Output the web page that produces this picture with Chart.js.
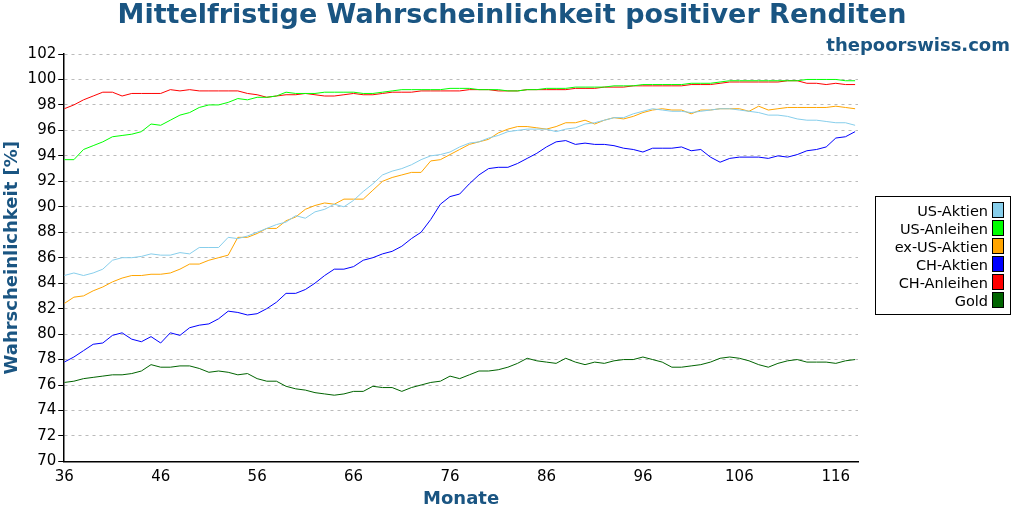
<!DOCTYPE html>
<html>
<head>
<meta charset="utf-8">
<script src="https://cdn.jsdelivr.net/npm/chart.js@4/dist/chart.umd.min.js"></script>
<style>
  body { margin: 0; background: #fff; font-family: "DejaVu Sans", sans-serif; }
  #wrap { position: relative; width: 1024px; height: 512px; }
  #title { position: absolute; left: 0; width: 1024px; top: -2px; text-align: center; font-weight: bold; font-size: 27px; color: #1a5582; }
  #site { position: absolute; right: 14px; top: 34px; font-weight: bold; font-size: 18px; color: #1a5582; }
  #legend { position: absolute; left: 875px; top: 196px; width: 136px; height: 119px; border: 1px solid #000;
            box-sizing: border-box; padding: 5px 6px; font-size: 14.5px; }
  #legend div { text-align: right; height: 18px; line-height: 18px; }
  #legend span { display: inline-block; width: 10px; height: 14px; border: 1px solid #000; margin-left: 4px; vertical-align: -2px; }
</style>
</head>
<body>
<div id="wrap">
  <canvas id="c" width="1024" height="512"></canvas>
  <div id="title">Mittelfristige Wahrscheinlichkeit positiver Renditen</div>
  <div id="site">thepoorswiss.com</div>
  <div id="legend"></div>
</div>
<script>
const months = [];
for (let m = 36; m <= 118; m++) months.push(m);

const usAktien = [84.6,84.8,84.6,84.8,85.1,85.8,86.0,86.0,86.1,86.3,86.2,86.2,86.4,86.3,86.8,86.8,86.8,87.6,87.5,87.7,88.0,88.3,88.6,88.8,89.3,89.1,89.6,89.8,90.2,90.0,90.5,91.2,91.8,92.5,92.8,93.0,93.3,93.7,94.0,94.1,94.3,94.7,95.0,95.1,95.4,95.6,95.9,96.0,96.1,96.1,96.1,95.9,96.1,96.2,96.5,96.6,96.8,97.0,97.0,97.3,97.5,97.7,97.6,97.5,97.5,97.4,97.5,97.6,97.7,97.7,97.6,97.5,97.4,97.2,97.2,97.1,96.9,96.8,96.8,96.7,96.6,96.6,96.4];
const usAnleihen = [93.7,93.7,94.5,94.8,95.1,95.5,95.6,95.7,95.9,96.5,96.4,96.8,97.2,97.4,97.8,98.0,98.0,98.2,98.5,98.4,98.6,98.6,98.7,99.0,98.9,98.9,98.9,99.0,99.0,99.0,99.0,98.9,98.9,99.0,99.1,99.2,99.2,99.2,99.2,99.2,99.3,99.3,99.3,99.2,99.2,99.2,99.1,99.1,99.2,99.2,99.3,99.3,99.3,99.4,99.4,99.4,99.4,99.5,99.5,99.5,99.6,99.6,99.6,99.6,99.6,99.7,99.7,99.7,99.8,99.9,99.9,99.9,99.9,99.9,99.9,99.9,99.9,100.0,100.0,100.0,100.0,99.9,99.9];
const exUsAktien = [82.4,82.9,83.0,83.4,83.7,84.1,84.4,84.6,84.6,84.7,84.7,84.8,85.1,85.5,85.5,85.8,86.0,86.2,87.6,87.6,87.9,88.3,88.3,88.9,89.2,89.8,90.1,90.3,90.2,90.6,90.6,90.6,91.3,92.0,92.3,92.5,92.7,92.7,93.6,93.7,94.1,94.5,94.9,95.1,95.3,95.8,96.1,96.3,96.3,96.2,96.1,96.3,96.6,96.6,96.8,96.5,96.8,97.0,96.9,97.1,97.4,97.6,97.7,97.6,97.6,97.3,97.6,97.6,97.7,97.7,97.7,97.5,97.9,97.6,97.7,97.8,97.8,97.8,97.8,97.8,97.9,97.8,97.7];
const chAktien = [77.8,78.2,78.7,79.2,79.3,79.9,80.1,79.6,79.4,79.8,79.3,80.1,79.9,80.5,80.7,80.8,81.2,81.8,81.7,81.5,81.6,82.0,82.5,83.2,83.2,83.5,84.0,84.6,85.1,85.1,85.3,85.8,86.0,86.3,86.5,86.9,87.5,88.0,89.0,90.2,90.8,91.0,91.8,92.5,93.0,93.1,93.1,93.4,93.8,94.2,94.7,95.1,95.2,94.9,95.0,94.9,94.9,94.8,94.6,94.5,94.3,94.6,94.6,94.6,94.7,94.4,94.5,93.9,93.5,93.8,93.9,93.9,93.9,93.8,94.0,93.9,94.1,94.4,94.5,94.7,95.4,95.5,95.9];
const chAnleihen = [97.7,98.0,98.4,98.7,99.0,99.0,98.7,98.9,98.9,98.9,98.9,99.2,99.1,99.2,99.1,99.1,99.1,99.1,99.1,98.9,98.8,98.6,98.7,98.8,98.8,98.9,98.8,98.7,98.7,98.8,98.9,98.8,98.8,98.9,99.0,99.0,99.0,99.1,99.1,99.1,99.1,99.1,99.2,99.2,99.2,99.1,99.1,99.1,99.2,99.2,99.2,99.2,99.2,99.3,99.3,99.3,99.4,99.4,99.4,99.5,99.5,99.5,99.5,99.5,99.5,99.6,99.6,99.6,99.7,99.8,99.8,99.8,99.8,99.8,99.8,99.9,99.9,99.7,99.7,99.6,99.7,99.6,99.6];
const gold = [76.2,76.3,76.5,76.6,76.7,76.8,76.8,76.9,77.1,77.6,77.4,77.4,77.5,77.5,77.3,77.0,77.1,77.0,76.8,76.9,76.5,76.3,76.3,75.9,75.7,75.6,75.4,75.3,75.2,75.3,75.5,75.5,75.9,75.8,75.8,75.5,75.8,76.0,76.2,76.3,76.7,76.5,76.8,77.1,77.1,77.2,77.4,77.7,78.1,77.9,77.8,77.7,78.1,77.8,77.6,77.8,77.7,77.9,78.0,78.0,78.2,78.0,77.8,77.4,77.4,77.5,77.6,77.8,78.1,78.2,78.1,77.9,77.6,77.4,77.7,77.9,78.0,77.8,77.8,77.8,77.7,77.9,78.0];

const seriesDefs = [
  { label: "US-Aktien", data: usAktien, color: "#87ceeb" },
  { label: "US-Anleihen", data: usAnleihen, color: "#00ff00" },
  { label: "ex-US-Aktien", data: exUsAktien, color: "#ffa500" },
  { label: "CH-Aktien", data: chAktien, color: "#0000ff" },
  { label: "CH-Anleihen", data: chAnleihen, color: "#ff0000" },
  { label: "Gold", data: gold, color: "#006400" }
];

const titleColor = "#1a5582";

document.getElementById("legend").innerHTML = seriesDefs
  .map(s => `<div>${s.label}<span style="background:${s.color}"></span></div>`).join("");

new Chart(document.getElementById("c"), {
  type: "line",
  data: {
    datasets: seriesDefs.map(s => ({
      label: s.label,
      data: s.data.map((v, i) => ({ x: months[i], y: v })),
      borderColor: s.color,
      borderWidth: 1,
      pointRadius: 0,
      tension: 0
    }))
  },
  options: {
    responsive: false,
    animation: false,
    layout: { padding: { left: 0, right: 166, top: 54, bottom: 2 } },
    plugins: {
      legend: { display: false },
      tooltip: { enabled: false }
    },
    scales: {
      x: {
        type: "linear",
        min: 36, max: 118.3,
        border: { color: "#000", width: 1.5 },
        grid: { display: false, tickLength: 5 },
        ticks: {
          color: "#000", padding: 2,
          font: { family: "DejaVu Sans", size: 15 }
        },
        afterBuildTicks: axis => {
          axis.ticks = [];
          for (let v = 36; v <= 118; v += 10) axis.ticks.push({ value: v });
        },
        title: { display: true, text: "Monate", color: titleColor, padding: 0,
                 font: { family: "DejaVu Sans", size: 18, weight: "bold" } }
      },
      y: {
        min: 70, max: 102,
        border: { color: "#000", width: 1.5, dash: [3, 4] },
        grid: {
          color: "#bbbbbb",
          tickColor: "#000",
          tickLength: 6,
          lineWidth: 1
        },
        ticks: { stepSize: 2, color: "#000", padding: 2, font: { family: "DejaVu Sans", size: 15 } },
        title: { display: true, text: "Wahrscheinlichkeit [%]", color: titleColor, padding: 2,
                 font: { family: "DejaVu Sans", size: 18, weight: "bold" } }
      }
    }
  }
});
</script>
</body>
</html>
